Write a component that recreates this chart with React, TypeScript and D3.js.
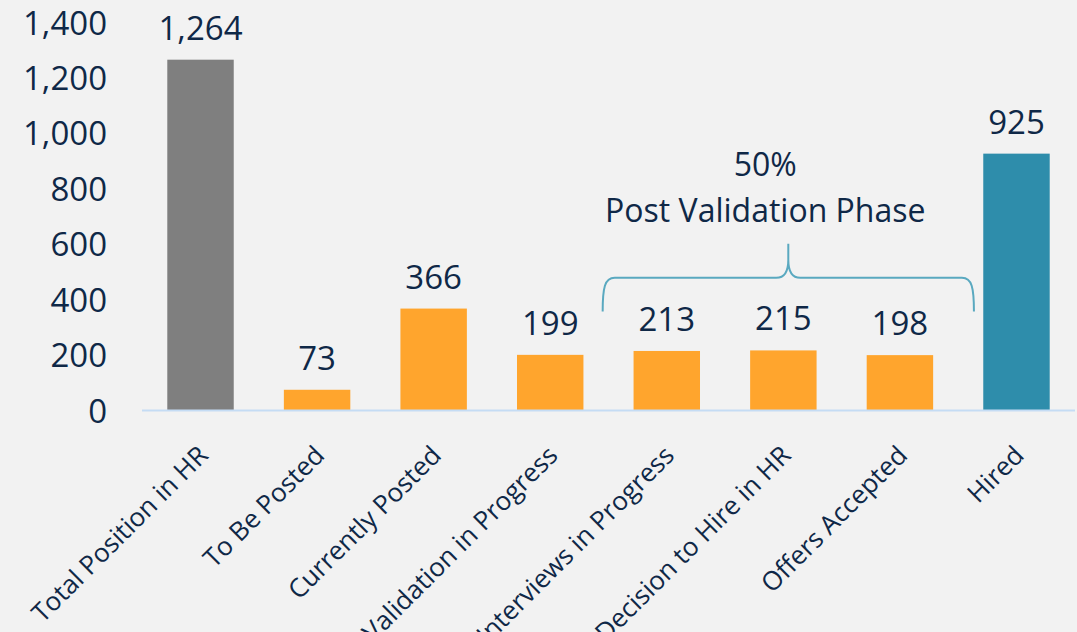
import { useMemo } from 'react';
import * as d3 from 'd3';

const categories = [
  'Total Position in HR',
  'To Be Posted',
  'Currently Posted',
  'Validation in Progress',
  'Interviews in Progress',
  'Decision to Hire in HR',
  'Offers Accepted',
  'Hired'
];
const counts = [1264, 73, 366, 199, 213, 215, 198, 925];
const barColors = ['#7f7f7f', '#ffa52d', '#ffa52d', '#ffa52d', '#ffa52d', '#ffa52d', '#ffa52d', '#2e8dab'];
const yTicks = [0, 200, 400, 600, 800, 1000, 1200, 1400];
const bracedCategories = ['Interviews in Progress', 'Decision to Hire in HR', 'Offers Accepted'];
const annotationTitle = 'Post Validation Phase';

const WIDTH = 1077;
const HEIGHT = 632;
const TEXT = '#0f2847';
const FONT = '"Open Sans", "DejaVu Sans", sans-serif';

export default function App() {
  const x = useMemo(
    () => d3.scaleBand<string>().domain(categories).range([142, 1075]).paddingInner(0.43).paddingOuter(0.217),
    []
  );
  const y = useMemo(() => d3.scaleLinear().domain([0, 1400]).range([410, 22]), []);
  const fmt = d3.format(',');

  const bracedTotal = d3.sum(bracedCategories, (c) => counts[categories.indexOf(c)]);
  const share = Math.round((bracedTotal / counts[0]) * 100);

  // brace over the post validation bars
  const step = x.step();
  const bw = x.bandwidth();
  const left = (x(bracedCategories[0]) ?? 0) - step * 0.265;
  const right = (x(bracedCategories[bracedCategories.length - 1]) ?? 0) + bw + step * 0.35;
  const mid = (left + right) / 2;
  const yBottom = y(355);
  const yLine = y(477);
  const yTop = y(600);
  const p = d3.path();
  p.moveTo(left, yBottom);
  p.bezierCurveTo(left, yLine + 10, left + 2, yLine, left + 12, yLine);
  p.lineTo(mid - 12, yLine);
  p.bezierCurveTo(mid - 4, yLine, mid, yLine - 6, mid, yTop + 16);
  p.lineTo(mid, yTop);
  p.moveTo(mid, yTop + 16);
  p.bezierCurveTo(mid, yLine - 6, mid + 4, yLine, mid + 12, yLine);
  p.lineTo(right - 12, yLine);
  p.bezierCurveTo(right - 2, yLine, right, yLine + 10, right, yBottom);

  return (
    <svg width={WIDTH} height={HEIGHT} style={{ position: 'absolute', left: 0, top: 0, display: 'block' }} fontFamily={FONT}>
      <rect width={WIDTH} height={HEIGHT} fill="#f2f2f2" />

      {yTicks.map((t) => (
        <text key={t} x={107} y={y(t)} textAnchor="end" dominantBaseline="central" fontSize={33} fill={TEXT}>
          {fmt(t)}
        </text>
      ))}

      {categories.map((c, i) => (
        <g key={c}>
          <rect x={x(c)} y={y(counts[i])} width={bw} height={y(0) - y(counts[i])} fill={barColors[i]} />
          <text x={(x(c) ?? 0) + bw / 2} y={y(counts[i]) - 20} textAnchor="middle" fontSize={33} fill={TEXT}>
            {fmt(counts[i])}
          </text>
          <text
            transform={`translate(${(x(c) ?? 0) + bw / 2 + 9},${457}) rotate(-45)`}
            textAnchor="end"
            fontSize={26}
            fill={TEXT}
          >
            {c}
          </text>
        </g>
      ))}

      <line x1={142} x2={1075} y1={y(0) + 0.5} y2={y(0) + 0.5} stroke="#c5dcf4" strokeWidth={2} />

      <path d={p.toString()} fill="none" stroke="#5aa9c0" strokeWidth={2} />
      <text x={mid - 23} y={yTop - 68} textAnchor="middle" fontSize={32} fill={TEXT}>
        {share}%
      </text>
      <text x={mid - 23} y={yTop - 22} textAnchor="middle" fontSize={32} fill={TEXT}>
        {annotationTitle}
      </text>
    </svg>
  );
}
